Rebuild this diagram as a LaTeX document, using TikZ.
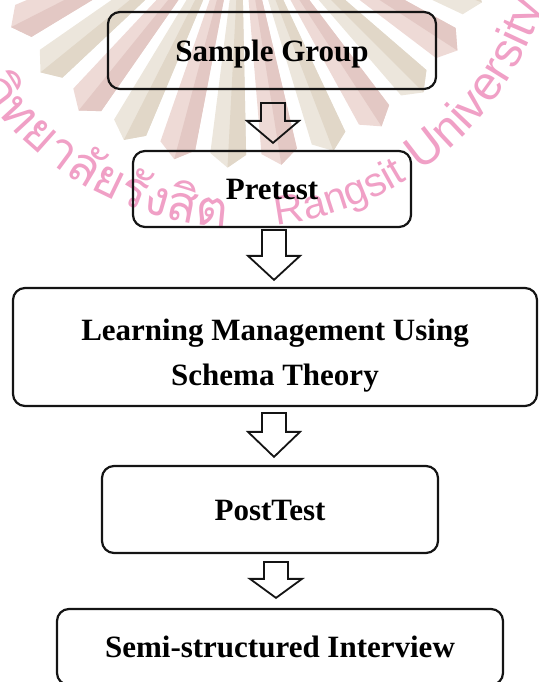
\documentclass[tikz,border=0pt]{standalone}
\usepackage{fontspec}
\setmainfont{Liberation Serif}
\newfontfamily\wmthai[Script=Thai]{Loma}
\newfontfamily\wmlatin{Liberation Sans}
\usetikzlibrary{calc}

\definecolor{boxline}{RGB}{20,20,20}
\definecolor{raytan}{RGB}{236,230,220}
\definecolor{raytandark}{RGB}{225,215,200}
\definecolor{rayred}{RGB}{238,218,214}
\definecolor{rayreddark}{RGB}{227,200,196}
\definecolor{wmpink}{RGB}{240,160,198}

\newcommand{\wmthaifont}{\wmthai\fontsize{50}{60}\selectfont}
\newcommand{\wmrangsitfont}{\wmlatin\fontsize{41}{48}\selectfont}
\newcommand{\wmunivfont}{\wmlatin\fontsize{48}{56}\selectfont}
\newdimen\wmw
\newdimen\wmtot
\newbox\wmbox

% builds in #1 a list "angle/letter" for letters #4 in font #3,
% set from angle #2 along the circle of radius 317
\newcommand{\wmprep}[4]{%
  \gdef#1{}%
  \xdef\wmang{#2}%
  \foreach \ch in {#4} {%
    \setbox\wmbox=\hbox{#3\ch}%
    \global\wmw=\wd\wmbox
    \pgfmathsetmacro\wmstep{\wmw/317*57.29578}%
    \pgfmathsetmacro\wmmid{\wmang+\wmstep/2}%
    \pgfmathsetmacro\wmnext{\wmang+\wmstep}%
    \xdef\wmang{\wmnext}%
    \ifx#1\empty \xdef#1{\wmmid/\ch}\else \xdef#1{#1,\wmmid/\ch}\fi
  }%
}
% same, but the letters end at angle #2
\newcommand{\wmprepend}[4]{%
  \global\wmtot=0pt
  \foreach \ch in {#4} {%
    \setbox\wmbox=\hbox{#3\ch}%
    \global\advance\wmtot by \wd\wmbox
  }%
  \pgfmathsetmacro\wmstart{#2-\wmtot/317*57.29578}%
  \wmprep{#1}{\wmstart}{#3}{#4}%
}

% hollow block arrow from the lower side of #1 to the upper side of #2
% #3 centre x, #4 gap below #1, #5 gap above #2, #6 head length
\newcommand{\flowarrow}[6]{%
  \draw[blockarrow] let \p1=(#1.south), \p2=(#2.north) in
    (#3pt-12pt,\y1-#4pt) -- (#3pt+12pt,\y1-#4pt)
    -- (#3pt+12pt,\y2+#5pt+#6pt) -- (#3pt+26pt,\y2+#5pt+#6pt)
    -- (#3pt,\y2+#5pt)
    -- (#3pt-26pt,\y2+#5pt+#6pt) -- (#3pt-12pt,\y2+#5pt+#6pt) -- cycle;
}

\tikzset{
  stagebox/.style={draw=boxline, line width=2.2pt, rounded corners=12pt,
    inner sep=0pt, align=center, text=black,
    font=\fontsize{31}{45}\selectfont\bfseries},
  oneline/.style={text height=22pt, text depth=0pt},
  blockarrow/.style={draw=boxline, line width=1.8pt, line join=miter},
  wmtext/.style={inner sep=0pt, anchor=base, text=wmpink},
}

\begin{document}
\wmprepend{\wmthailist}{267.5}{\wmthaifont}{ม,ห,า,วิ,ท,ย,า,ลั,ย,รั,ง,สิ,ต}%
\wmprep{\wmrangsit}{276.5}{\wmrangsitfont}{R,a,n,g,s,i,t}%
\wmprep{\wmuniv}{304.5}{\wmunivfont}{U,n,i,v,e,r,s,i,t,y}%
\begin{tikzpicture}[x=1pt, y=1pt]
\clip (0,0) rectangle (538,682);
\useasboundingbox (0,0) rectangle (538,682);

% university watermark: sunburst rays and the arched name
\begin{scope}[shift={(241,772)}]
  \foreach \a [count=\i] in {207,219,...,339} {
    \pgfmathsetmacro\isred{mod(\i,2)}
    \ifdim\isred pt>0.5pt
      \fill[rayred] (\a-4.2:40) -- (\a-4.2:245) -- (\a:258) -- (\a+4.2:245) -- (\a+4.2:40) -- cycle;
      \fill[rayreddark] (\a:40) -- (\a:258) -- (\a+4.2:245) -- (\a+4.2:40) -- cycle;
    \else
      \fill[raytan] (\a-4.2:40) -- (\a-4.2:245) -- (\a:258) -- (\a+4.2:245) -- (\a+4.2:40) -- cycle;
      \fill[raytandark] (\a:40) -- (\a:258) -- (\a+4.2:245) -- (\a+4.2:40) -- cycle;
    \fi
  }
  \foreach \m/\c in \wmthailist
    \node[wmtext, font=\wmthaifont, rotate=\m+90] at (\m:317) {\c};
  \foreach \m/\c in \wmrangsit
    \node[wmtext, font=\wmrangsitfont, rotate=\m+90] at (\m:317) {\c};
  \foreach \m/\c in \wmuniv
    \node[wmtext, font=\wmunivfont, rotate=\m+90] at (\m:317) {\c};
\end{scope}

% stages of the study
\node[stagebox, oneline, minimum width=328pt, minimum height=77pt] (sample) at (272,631.5) {Sample Group};
\node[stagebox, oneline, minimum width=278pt, minimum height=76pt] (pre) at (272,493) {Pretest};
\node[stagebox, minimum width=524pt, minimum height=118pt] (learn) at (275,335)
  {\rule{0pt}{38pt}Learning Management Using\\Schema Theory};
\node[stagebox, oneline, minimum width=336pt, minimum height=87pt] (post) at (270,172.5) {PostTest};
\node[stagebox, oneline, minimum width=446pt, minimum height=76pt] (interview) at (280,35) {Semi-structured Interview};

% arrows between the stages
\flowarrow{sample}{pre}{273}{13}{7}{22}
\flowarrow{pre}{learn}{274}{2}{7}{24}
\flowarrow{learn}{post}{274}{6}{8}{25}
\flowarrow{post}{interview}{276}{8}{10}{19}
\end{tikzpicture}
\end{document}
